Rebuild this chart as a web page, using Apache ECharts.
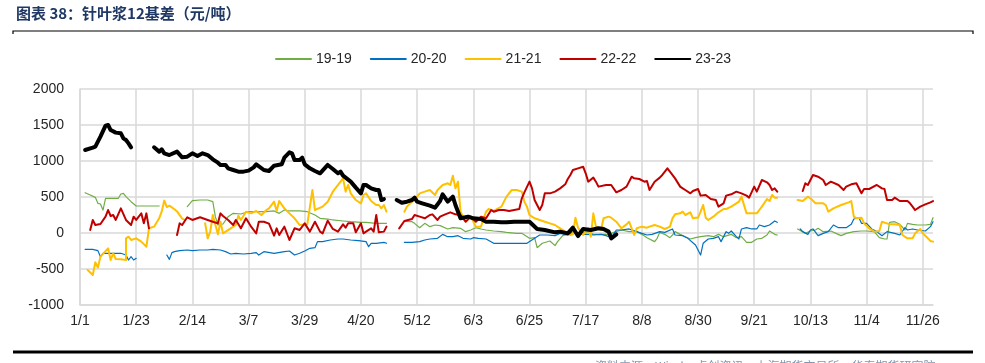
<!DOCTYPE html>
<html>
<head>
<meta charset="utf-8">
<script src="https://cdn.jsdelivr.net/npm/echarts@6/dist/echarts.min.js"></script>
<style>
html,body{margin:0;padding:0;background:#fff;}
#chart{width:985px;height:363px;}
</style>
</head>
<body>
<div id="chart"></div>
<script>
// x values = days after 1/1 (leap-year calendar), null = holiday gap
const tickLabels = ['1/1','1/23','2/14','3/7','3/29','4/20','5/12','6/3','6/25','7/17','8/8','8/30','9/21','10/13','11/4','11/26'];
const seriesNames = ['19-19','20-20','21-21','22-22','23-23'];

const s19 = [[2,560],[4,528],[6,495],[7,412],[8,403],[9,319],[10,482],[12,482],[15,482],[16,542],[17,551],[18,505],[20,435],[22,375],[26,375],[31,375],[37,null],
[42,366],[44,449],[47,458],[50,458],[52,435],[53,227],[54,111],[56,125],[58,227],[60,273],[63,264],[66,296],[69,296],[73,296],[76,306],[78,273],[80,319],[82,306],[86,306],[89,296],[92,250],[94,204],[97,194],[99,181],[103,167],[106,157],[110,148],[112,148],[116,134],[120,134],[124,null],
[127,160],[130,157],[131,134],[133,74],[135,134],[137,88],[139,111],[141,102],[144,56],[146,74],[149,65],[151,19],[153,42],[155,74],[157,56],[159,42],[162,28],[165,19],[167,9],[171,-5],[173,-5],[176,-74],[178,-65],[179,-204],[181,-143],[184,-111],[186,-176],[187,-120],[189,-37],[191,-19],[193,19],[196,-5],[199,19],[201,-19],[204,-19],[207,-19],[209,9],[212,42],[215,19],[218,19],[220,-19],[222,-65],[225,-120],[226,-74],[227,9],[229,-19],[231,-65],[232,-28],[233,19],[235,-19],[237,-51],[239,-83],[241,-65],[243,-51],[246,-37],[248,-51],[250,-19],[252,-51],[255,-19],[257,-65],[259,-51],[261,-130],[263,-130],[265,-83],[267,-74],[269,-28],[270,28],[272,-19],[273,-28],[277,null],
[281,56],[284,-5],[286,28],[288,42],[289,65],[291,19],[294,28],[296,-5],[298,-37],[300,-5],[303,19],[306,28],[308,28],[311,19],[313,-65],[315,-83],[316,-83],[317,148],[319,157],[321,120],[323,42],[324,134],[326,120],[328,111],[331,111],[333,120],[334,213]];

const s20 = [[2,-227],[5,-227],[7,-245],[8,-329],[9,-282],[11,-282],[14,-282],[16,-282],[18,-306],[19,-375],[20,-329],[21,-375],[22,-352],[28,null],
[34,-306],[35,-366],[36,-273],[37,-259],[39,-245],[42,-236],[44,-245],[47,-236],[50,-236],[52,-227],[55,-236],[57,-259],[59,-292],[61,-282],[64,-292],[67,-282],[69,-273],[70,-306],[72,-259],[76,-282],[80,-259],[82,-250],[84,-306],[86,-282],[88,-250],[90,-213],[92,-204],[93,-120],[95,-120],[98,-97],[101,-83],[103,-83],[106,-97],[109,-106],[112,-120],[113,-190],[114,-143],[116,-143],[119,-130],[120,-143],[123,null],
[127,-130],[130,-130],[133,-120],[135,-97],[137,-83],[140,-74],[142,-19],[144,-51],[146,-51],[148,-37],[150,-74],[153,-83],[154,-65],[156,-74],[159,-83],[162,-143],[165,-143],[167,-143],[171,-143],[175,-143],[178,-74],[180,-28],[183,-28],[186,-37],[188,-5],[191,-28],[193,19],[196,-19],[199,-19],[201,-28],[204,-19],[206,-37],[208,-65],[210,42],[212,42],[215,56],[218,19],[220,-5],[222,-28],[224,-19],[227,19],[229,9],[232,56],[233,-28],[236,-37],[238,-74],[241,-167],[243,-306],[244,-143],[246,-83],[248,-74],[250,-51],[251,-120],[253,19],[254,-5],[255,28],[257,-51],[258,-83],[259,56],[261,74],[263,56],[265,56],[266,111],[268,88],[270,111],[272,167],[273,148],[277,null],
[282,56],[283,19],[285,-19],[286,42],[287,56],[289,-37],[291,-5],[293,19],[295,111],[297,74],[300,74],[302,120],[303,194],[305,213],[306,134],[308,134],[310,56],[312,19],[314,-37],[316,19],[319,-5],[321,-28],[323,74],[324,42],[326,56],[328,42],[331,28],[333,88],[334,157]];

const s21 = [[3,-514],[5,-583],[6,-407],[7,-481],[8,-329],[11,-213],[12,-375],[13,-282],[14,-361],[16,-366],[18,-375],[18,-74],[19,-51],[20,-97],[22,-74],[24,-120],[26,-190],[27,65],[29,88],[31,204],[32,300],[33,450],[34,360],[35,380],[37,330],[38,300],[40,200],[41,181],[44,null],
[49,134],[50,-74],[51,19],[52,250],[54,-19],[55,157],[56,-5],[59,65],[61,111],[62,241],[63,181],[65,296],[67,273],[69,306],[71,250],[73,319],[74,343],[76,435],[77,306],[78,444],[80,343],[82,273],[84,204],[86,111],[89,120],[91,597],[92,319],[95,366],[97,435],[99,574],[103,759],[104,574],[105,667],[106,551],[108,458],[110,412],[111,528],[112,551],[114,444],[116,389],[117,389],[118,343],[119,389],[120,296],[123,null],
[127,296],[128,366],[130,435],[132,505],[133,551],[135,574],[137,597],[139,528],[140,597],[142,667],[144,690],[145,667],[146,796],[147,620],[148,713],[149,296],[151,157],[153,227],[155,88],[157,88],[159,296],[160,333],[162,306],[165,366],[167,505],[169,597],[171,597],[173,574],[174,435],[175,366],[176,250],[178,204],[180,181],[182,157],[184,134],[186,111],[188,65],[190,19],[192,-28],[193,-19],[194,213],[195,74],[197,-28],[199,65],[200,-51],[201,273],[202,88],[204,42],[205,204],[207,227],[208,213],[210,157],[212,65],[214,120],[215,157],[217,-28],[218,65],[220,88],[222,74],[223,88],[225,111],[227,88],[229,56],[231,88],[232,204],[233,259],[235,273],[236,296],[237,250],[239,287],[240,204],[241,213],[242,213],[243,296],[244,389],[245,213],[246,181],[248,227],[250,287],[252,333],[253,333],[255,366],[257,412],[258,435],[259,505],[261,273],[263,273],[265,273],[267,366],[269,472],[270,444],[271,528],[272,491],[273,491],[277,null],
[281,458],[283,444],[285,505],[286,482],[288,412],[291,412],[292,389],[293,296],[295,343],[298,389],[301,426],[302,444],[303,227],[304,204],[306,213],[307,134],[309,65],[311,19],[313,28],[314,157],[316,134],[317,120],[319,120],[321,111],[322,-28],[324,-74],[326,-74],[327,-5],[329,56],[330,-5],[332,-74],[333,-111],[334,-120]];

const s22 = [[4,42],[5,181],[6,111],[8,125],[10,227],[11,319],[12,236],[13,250],[14,181],[16,343],[18,181],[20,111],[21,227],[22,181],[24,273],[25,134],[26,273],[27,65],[32,null],
[38,-28],[39,134],[40,111],[42,218],[44,181],[47,218],[50,181],[52,157],[54,134],[55,273],[56,236],[58,181],[60,111],[61,181],[63,65],[65,204],[67,88],[69,-5],[70,157],[72,157],[74,130],[76,-37],[77,65],[78,-28],[80,88],[82,-97],[84,65],[86,42],[88,134],[90,19],[92,157],[94,19],[95,-5],[97,171],[99,56],[101,19],[103,120],[104,74],[105,134],[107,134],[108,9],[110,134],[111,-5],[112,19],[114,65],[115,19],[116,250],[117,9],[119,19],[120,88],[122,null],
[125,65],[127,167],[130,194],[131,250],[133,227],[135,204],[137,250],[138,259],[140,181],[141,227],[143,259],[145,287],[147,259],[149,250],[151,157],[153,227],[155,157],[157,227],[159,204],[161,319],[162,296],[164,319],[166,319],[168,306],[170,319],[172,333],[173,482],[174,565],[176,713],[177,620],[178,458],[180,319],[181,389],[182,551],[184,551],[186,574],[188,620],[190,676],[191,750],[192,806],[193,875],[195,898],[197,921],[198,829],[199,713],[201,769],[202,713],[203,644],[206,667],[208,667],[210,565],[212,597],[214,644],[216,782],[217,759],[219,750],[221,713],[222,722],[223,597],[225,713],[227,769],[228,806],[230,898],[231,852],[233,759],[235,644],[236,620],[237,597],[239,551],[240,583],[242,611],[243,519],[245,528],[247,472],[249,458],[250,366],[252,412],[253,519],[255,537],[257,574],[259,551],[261,519],[262,491],[264,644],[265,574],[267,736],[269,704],[270,667],[271,597],[272,620],[273,574],[278,null],
[283,583],[284,690],[285,667],[287,806],[289,782],[291,736],[292,667],[294,713],[297,667],[299,597],[300,644],[302,676],[304,690],[306,551],[307,611],[309,611],[312,667],[314,620],[315,611],[316,458],[318,458],[319,491],[321,444],[324,444],[325,412],[326,366],[327,319],[329,366],[331,398],[333,426],[334,444]];

const s23 = [[2,1153],[5,1185],[6,1199],[8,1338],[10,1491],[11,1500],[12,1430],[14,1394],[16,1384],[17,1315],[18,1292],[19,1245],[20,1190],[24,null],
[29,1190],[31,1130],[32,1162],[33,1107],[35,1083],[38,1130],[40,1051],[42,1060],[44,1107],[46,1070],[48,1107],[50,1083],[52,1023],[54,977],[55,945],[57,945],[58,898],[60,875],[62,852],[64,852],[66,866],[68,912],[69,954],[72,875],[74,861],[76,935],[79,954],[80,1046],[82,1120],[83,1107],[84,1014],[86,1014],[87,1046],[88,954],[90,898],[92,861],[94,829],[97,945],[99,889],[101,829],[102,852],[103,796],[106,713],[108,630],[110,551],[111,667],[112,667],[114,620],[116,597],[117,597],[118,458],[119,472],[121,null],
[124,458],[126,421],[128,435],[130,458],[131,491],[132,435],[134,412],[137,380],[139,352],[141,444],[142,537],[144,435],[146,505],[147,389],[149,204],[152,227],[154,204],[157,194],[159,157],[162,157],[165,148],[167,148],[170,157],[173,157],[176,157],[179,56],[182,42],[186,9],[188,19],[191,-5],[193,74],[195,-42],[197,56],[200,42],[203,65],[205,56],[207,19],[208,-74],[210,-19]];

const seriesData = [s19, s20, s21, s22, s23];
const colors = ['#70AD47','#0070C0','#FFC000','#C00000','#000000'];
const widths = [1.2, 1.2, 2, 2, 4];

const chart = echarts.init(document.getElementById('chart'), null, {renderer:'canvas'});
const font = '"Liberation Sans", Arial, sans-serif';
const gridColor = '#d9d9d9';

const series = seriesNames.map((n, i) => ({
  name: n,
  type: 'line',
  data: seriesData[i],
  showSymbol: false,
  symbol: 'none',
  connectNulls: false,
  animation: false,
  z: 3 + i,
  lineStyle: {color: colors[i], width: widths[i], join: 'round', cap: 'round'},
  itemStyle: {color: colors[i]}
}));
// vertical grid lines at the x ticks, drawn beneath the data
series.push({
  type: 'line', data: [], silent: true, z: 1, animation: false,
  markLine: {
    silent: true, symbol: ['none','none'], animation: false, z: 1,
    label: {show: false},
    lineStyle: {color: gridColor, width: 1.5, type: 'solid'},
    emphasis: {disabled: true},
    data: tickLabels.map((t, i) => ({xAxis: i * 22}))
  }
});

chart.setOption({
  animation: false,
  backgroundColor: '#fff',
  textStyle: {fontFamily: font},
  grid: {left: 80, top: 89, width: 853, height: 216, containLabel: false},
  legend: {
    data: seriesNames,
    left: 270, top: 47,
    itemWidth: 35, itemHeight: 14, itemGap: 18,
    itemStyle: {opacity: 0},
    textStyle: {fontSize: 14, color: '#262626', fontFamily: font}
  },
  xAxis: {
    type: 'value', min: 0, max: 334, interval: 22,
    axisLine: {show: true, onZero: false, lineStyle: {color: gridColor, width: 1.5}},
    axisTick: {show: false},
    splitLine: {show: false},
    axisLabel: {
      fontSize: 14, color: '#262626', margin: 9, fontFamily: font,
      showMaxLabel: false,
      formatter: v => (v % 22 === 0 && v / 22 < tickLabels.length) ? tickLabels[v / 22] : ''
    }
  },
  yAxis: {
    type: 'value', min: -1000, max: 2000, interval: 500,
    axisLine: {show: true, lineStyle: {color: gridColor, width: 1.5}},
    axisTick: {show: false},
    splitLine: {show: true, lineStyle: {color: gridColor, width: 1.5}},
    axisLabel: {fontSize: 14, color: '#262626', margin: 16, fontFamily: font, formatter: v => String(v)}
  },
  graphic: [
    {type: 'text', left: 16, top: 6, silent: true,
     style: {text: '图表 38：针叶浆12基差（元/吨）', fill: '#1f3864', fontSize: 15, fontWeight: 'bold', fontFamily: '"Noto Sans CJK SC", sans-serif'}},
    {type: 'polyline', silent: true, shape: {points: [[13,34],[13,31],[973,31],[973,34]]}, style: {stroke: '#000', lineWidth: 1.2, fill: null}},
    {type: 'line', silent: true, shape: {x1: 13, y1: 352, x2: 973, y2: 352}, style: {stroke: '#000', lineWidth: 3}},
    {type: 'text', left: 595, top: 360, silent: true,
     style: {text: '资料来源：Wind，卓创资讯，上海期货交易所，华泰期货研究院', fill: '#8497b0', fontSize: 12, fontFamily: '"Noto Sans CJK SC", sans-serif'}}
  ],
  series: series
});
</script>
</body>
</html>
